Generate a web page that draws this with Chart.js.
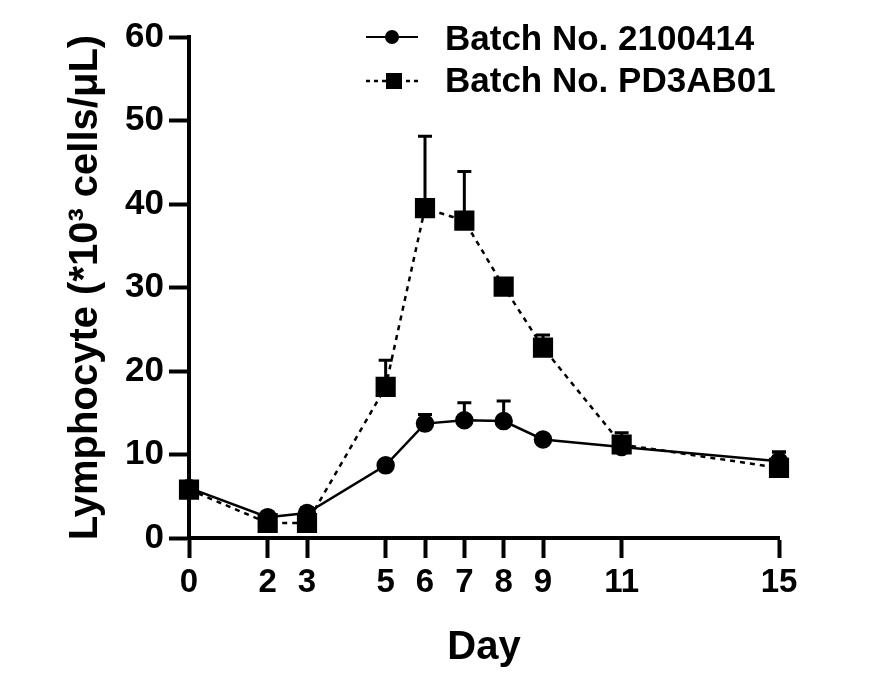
<!DOCTYPE html>
<html>
<head>
<meta charset="utf-8">
<script src="https://cdn.jsdelivr.net/npm/chart.js@4.4.0/dist/chart.umd.min.js"></script>
<style>
  body { margin: 0; background: #fff; }
  #grafico { display: block; }
</style>
</head>
<body>
<canvas id="grafico" width="889" height="687"></canvas>
<script>
// dados
const dias = [0, 2, 3, 5, 6, 7, 8, 9, 11, 15];
const ticksDias = [0, 2, 3, 5, 6, 7, 8, 9, 11, 15];
const ticksY = [0, 10, 20, 30, 40, 50, 60];

const lote1Nome = 'Batch No. 2100414';
const lote1 = [6.0, 2.5, 3.0, 8.7, 13.7, 14.1, 14.0, 11.8, 10.9, 9.2];
const lote1Erro = [0, 0, 0, 0, 1.1, 2.1, 2.4, 0, 0, 1.1];

const lote2Nome = 'Batch No. PD3AB01';
const lote2 = [5.8, 1.8, 1.8, 18.1, 39.5, 38.0, 30.1, 22.8, 11.2, 8.4];
const lote2Erro = [0, 0, 1.8, 3.2, 8.6, 5.9, 0, 1.5, 1.4, 1.9];

const fonte = '"Liberation Sans", Arial, sans-serif';

// barras de erro (só a parte de cima, como no original)
const barrasErro = {
    id: 'barrasErro',
    beforeDatasetsDraw(chart) {
        const ctx = chart.ctx;
        const x = chart.scales.x;
        const y = chart.scales.y;
        const series = [[lote1, lote1Erro], [lote2, lote2Erro]];
        ctx.save();
        ctx.strokeStyle = '#000';
        ctx.lineWidth = 3;
        ctx.setLineDash([]);
        series.forEach(function (s) {
            dias.forEach(function (d, i) {
                if (!s[1][i]) return;
                const px = x.getPixelForValue(d);
                const y0 = y.getPixelForValue(s[0][i]);
                const y1 = y.getPixelForValue(s[0][i] + s[1][i]);
                ctx.beginPath();
                ctx.moveTo(px, y0);
                ctx.lineTo(px, y1);
                ctx.moveTo(px - 7, y1);
                ctx.lineTo(px + 7, y1);
                ctx.stroke();
            });
        });
        ctx.restore();
    }
};

// legenda desenhada à mão (linha + marcador + linha)
const legenda = {
    id: 'legenda',
    afterDraw(chart) {
        const ctx = chart.ctx;
        ctx.save();
        ctx.strokeStyle = '#000';
        ctx.fillStyle = '#000';

        ctx.lineWidth = 2;
        ctx.setLineDash([]);
        ctx.beginPath();
        ctx.moveTo(366, 37);
        ctx.lineTo(418, 37);
        ctx.stroke();
        ctx.beginPath();
        ctx.arc(392, 37, 7, 0, Math.PI * 2);
        ctx.fill();

        ctx.lineWidth = 2.5;
        ctx.setLineDash([4, 4]);
        ctx.beginPath();
        ctx.moveTo(366, 81);
        ctx.lineTo(418, 81);
        ctx.stroke();
        ctx.fillRect(386, 73, 16, 16);

        ctx.font = 'bold 35px ' + fonte;
        ctx.textBaseline = 'middle';
        ctx.textAlign = 'left';
        ctx.fillText(lote1Nome, 445, 40);
        ctx.fillText(lote2Nome, 445, 82);
        ctx.restore();
    }
};

const ctx = document.getElementById('grafico');

new Chart(ctx, {
    type: 'line',
    data: {
        datasets: [{
            label: lote1Nome,
            data: dias.map((d, i) => ({ x: d, y: lote1[i] })),
            borderColor: '#000',
            backgroundColor: '#000',
            borderWidth: 2.5,
            pointStyle: 'circle',
            pointRadius: 8,
            pointHoverRadius: 8,
            tension: 0,
            clip: false
        }, {
            label: lote2Nome,
            data: dias.map((d, i) => ({ x: d, y: lote2[i] })),
            borderColor: '#000',
            backgroundColor: '#000',
            borderWidth: 2.5,
            borderDash: [5, 5],
            pointStyle: 'rect',
            pointRadius: 12.5,
            pointHoverRadius: 12.5,
            tension: 0,
            clip: false
        }]
    },
    options: {
        responsive: false,
        animation: false,
        devicePixelRatio: 1,
        layout: { padding: { left: 0, right: 110, top: 37, bottom: 0 } },
        plugins: {
            legend: { display: false },
            tooltip: { enabled: false }
        },
        scales: {
            x: {
                type: 'linear',
                min: 0,
                max: 15,
                afterBuildTicks: axis => { axis.ticks = ticksDias.map(v => ({ value: v })); },
                afterFit: axis => { axis.height = 149; },
                grid: { drawOnChartArea: false, tickLength: 20, tickWidth: 4, tickColor: '#000' },
                border: { color: '#000', width: 4 },
                ticks: {
                    color: '#000',
                    padding: 5,
                    maxRotation: 0,
                    autoSkip: false,
                    font: { family: fonte, size: 33, weight: 'bold' }
                },
                title: {
                    display: true,
                    text: 'Day',
                    color: '#000',
                    padding: { top: 0, bottom: 15 },
                    font: { family: fonte, size: 40, weight: 'bold' }
                }
            },
            y: {
                min: 0,
                max: 60,
                afterBuildTicks: axis => { axis.ticks = ticksY.map(v => ({ value: v })); },
                afterFit: axis => { axis.width = 189; },
                grid: { drawOnChartArea: false, tickLength: 20, tickWidth: 4, tickColor: '#000' },
                border: { color: '#000', width: 4 },
                ticks: {
                    color: '#000',
                    padding: 5,
                    font: { family: fonte, size: 35, weight: 'bold' }
                },
                title: {
                    display: true,
                    text: 'Lymphocyte (*10³ cells/μL)',
                    color: '#000',
                    padding: { top: 62, bottom: 0 },
                    font: { family: fonte, size: 40, weight: 'bold' }
                }
            }
        }
    },
    plugins: [barrasErro, legenda]
});
</script>
</body>
</html>
